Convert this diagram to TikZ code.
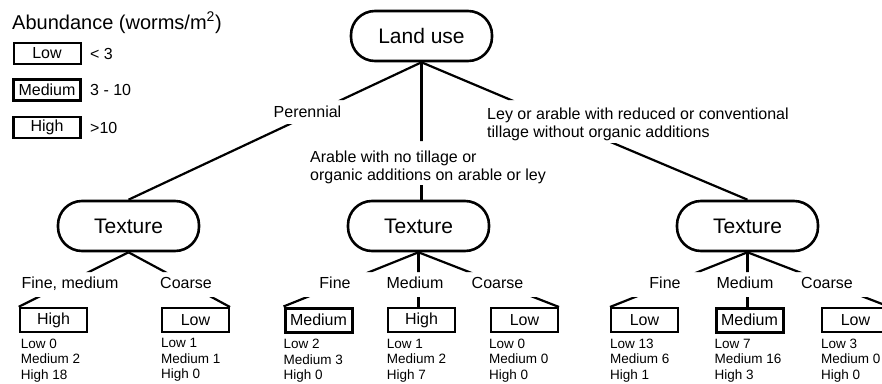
\documentclass[tikz,border=0pt]{standalone}
\usepackage{fontspec}
\setmainfont{Liberation Sans}
\begin{document}
\begin{tikzpicture}[x=1pt,y=-1pt,
  stad/.style={draw, line width=2.6pt, rounded corners=24pt, minimum width=141pt, minimum height=50pt, inner sep=0pt, font=\fontsize{21}{24}\selectfont},
  conn/.style={line width=2.2pt},
  abox/.style={draw, minimum width=67pt, minimum height=24pt, inner sep=0pt, font=\fontsize{16}{18}\selectfont},
  lbox/.style={abox, minimum height=21pt},
  lowb/.style={line width=2pt},
  medb/.style={line width=3pt},
  highb/.style={line width=2.5pt},
  lab/.style={inner sep=0pt, font=\fontsize{16}{18}\selectfont},
  counts/.style={inner sep=0pt, align=left, anchor=north west, font=\fontsize{13.5}{15.5}\selectfont},
  legtxt/.style={inner sep=0pt, anchor=base west, font=\fontsize{16}{18}\selectfont}
]
\useasboundingbox (0,0) rectangle (882,383);
\clip (0,0) rectangle (882,383);

% legend
\node[inner sep=0pt, anchor=base west, font=\fontsize{20}{24}\selectfont] (title) at (12,29) {Abundance (worms/m\textsuperscript{2})};
\node[lbox, lowb] (lgLow) at (47,53.5) {Low};
\node[lbox, medb] (lgMed) at (47,89.5) {Medium};
\node[lbox, highb] (lgHigh) at (47,127.5) {High};
\node[legtxt] (vLow) at (90,59.2) {< 3};
\node[legtxt] (vMed) at (90,95.2) {3 - 10};
\node[legtxt] (vHigh) at (90,133.2) {>10};

% main nodes
\node[stad] (land) at (421.5,36) {Land use};
\node[stad] (texL) at (128.5,226) {Texture};
\node[stad] (texM) at (418.5,226) {Texture};
\node[stad] (texR) at (747.5,226) {Texture};

% first-level labels
\node[lab, anchor=base] (per) at (307.5,117) {Perennial};
\node[lab, anchor=north west, align=left] (ley) at (487,107.5) {Ley or arable with reduced or conventional\\tillage without organic additions};
\node[lab, anchor=north west, align=left] (arab) at (310,150.5) {Arable with no tillage or\\organic additions on arable or ley};

% first-level connectors
\begin{scope}
\clip (0,0) rectangle (882,100) (0,124) rectangle (882,383);
\draw[conn] (land.south) -- (texL.north);
\end{scope}
\begin{scope}
\clip (0,0) rectangle (882,100) (0,143) rectangle (882,383);
\draw[conn] (land.south) -- (texR.north);
\end{scope}
\begin{scope}
\clip (0,0) rectangle (882,141) (0,185) rectangle (882,383);
\draw[conn] (land.south) -- (land.south |- texM.north);
\end{scope}

% result boxes
\node[abox, highb] (bA1) at (53.5,320) {High};
\node[abox, lowb]  (bA2) at (195.5,320) {Low};
\node[abox, medb]  (bB1) at (318.5,320) {Medium};
\node[abox, highb] (bB2) at (421.5,320) {High};
\node[abox, lowb]  (bB3) at (524.5,320) {Low};
\node[abox, lowb]  (bC1) at (644.5,320) {Low};
\node[abox, medb]  (bC2) at (749.5,320) {Medium};
\node[abox, lowb]  (bC3) at (855.5,320) {Low};

% second-level connectors
\begin{scope}
\clip (0,0) rectangle (882,272) (0,297) rectangle (882,383);
\draw[conn] (texL.south) -- (bA1.north west);
\draw[conn] (texL.south) -- (bA2.north east);
\draw[conn] (texM.south) -- (bB1.north west);
\draw[conn] (texM.south) -- (texM.south |- bB2.north);
\draw[conn] (texM.south) -- (bB3.north east);
\draw[conn] (texR.south) -- (bC1.north west);
\draw[conn] (texR.south) -- (texR.south |- bC2.north);
\draw[conn] (texR.south) -- (bC3.north east);
\end{scope}

% second-level labels
\node[lab, anchor=base] (lA1) at (70,288) {Fine, medium};
\node[lab, anchor=base] (lA2) at (186,288) {Coarse};
\node[lab, anchor=base] (lB1) at (335,288) {Fine};
\node[lab, anchor=base] (lB2) at (415,288) {Medium};
\node[lab, anchor=base] (lB3) at (497.5,288) {Coarse};
\node[lab, anchor=base] (lC1) at (665,288) {Fine};
\node[lab, anchor=base] (lC2) at (745,288) {Medium};
\node[lab, anchor=base] (lC3) at (827,288) {Coarse};

% counts
\node[counts] (cA1) at ([xshift=2pt,yshift=-5.5pt]bA1.south west) {Low 0\\Medium 2\\High 18};
\node[counts] (cA2) at ([xshift=0pt,yshift=-5.5pt]bA2.south west) {Low 1\\Medium 1\\High 0};
\node[counts] (cB1) at ([xshift=0pt,yshift=-5.5pt]bB1.south west) {Low 2\\Medium 3\\High 0};
\node[counts] (cB2) at ([xshift=0pt,yshift=-5.5pt]bB2.south west) {Low 1\\Medium 2\\High 7};
\node[counts] (cB3) at ([xshift=-1pt,yshift=-5.5pt]bB3.south west) {Low 0\\Medium 0\\High 0};
\node[counts] (cC1) at ([xshift=0pt,yshift=-5.5pt]bC1.south west) {Low 13\\Medium 6\\High 1};
\node[counts] (cC2) at ([xshift=0pt,yshift=-5.5pt]bC2.south west) {Low 7\\Medium 16\\High 3};
\node[counts] (cC3) at ([xshift=0pt,yshift=-5.5pt]bC3.south west) {Low 3\\Medium 0\\High 0};
\end{tikzpicture}
\end{document}
